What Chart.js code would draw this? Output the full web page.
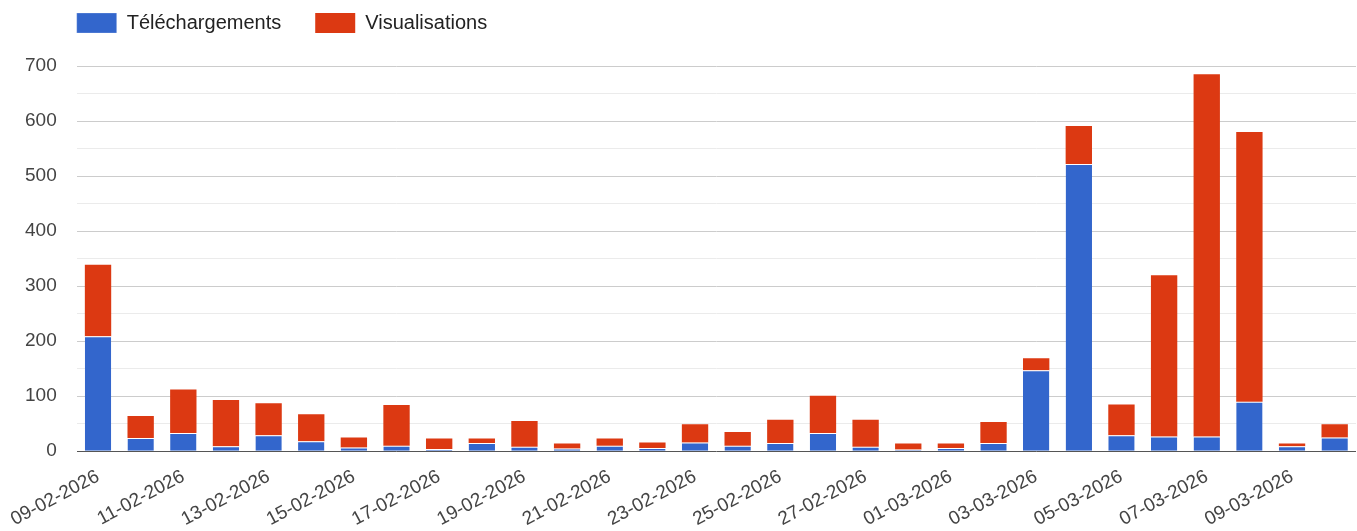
<!DOCTYPE html>
<html>
<head>
<meta charset="utf-8">
<script src="https://cdn.jsdelivr.net/npm/chart.js@4.4.1/dist/chart.umd.min.js"></script>
<style>
  html, body { margin: 0; padding: 0; background: #fff; }
  #wrap { width: 1357px; height: 531px; }
</style>
</head>
<body>
<div id="wrap"><canvas id="statsChart" width="1357" height="531"></canvas></div>
<script>
// Dates (one bar per day)
const days = [
  "09-02-2026", "10-02-2026", "11-02-2026", "12-02-2026", "13-02-2026",
  "14-02-2026", "15-02-2026", "16-02-2026", "17-02-2026", "18-02-2026",
  "19-02-2026", "20-02-2026", "21-02-2026", "22-02-2026", "23-02-2026",
  "24-02-2026", "25-02-2026", "26-02-2026", "27-02-2026", "28-02-2026",
  "01-03-2026", "02-03-2026", "03-03-2026", "04-03-2026", "05-03-2026",
  "06-03-2026", "07-03-2026", "08-03-2026", "09-03-2026", "10-03-2026"
];

// Stacked series values
const telechargements = [
  209, 24, 33, 9, 29, 18, 7, 10, 4, 15,
  8, 5, 10, 6, 16, 10, 15, 33, 8, 3,
  6, 15, 147, 522, 29, 27, 27, 90, 9, 25
];
const visualisations = [
  130, 40, 79, 84, 58, 49, 18, 74, 19, 8,
  47, 9, 13, 10, 33, 25, 42, 68, 49, 11,
  8, 38, 22, 69, 56, 293, 658, 490, 5, 24
];

const yMax = 700;
const yStep = 50;

// put the legend above the plot's left edge like the original
const legendPlace = {
  id: "legendPlace",
  afterLayout(chart) {
    const lg = chart.legend;
    const pad = lg.options.labels.padding;
    lg.left = chart.chartArea.left - pad;
    lg.top = 13 - pad;
  }
};

const ctx = document.getElementById("statsChart").getContext("2d");
new Chart(ctx, {
  type: "bar",
  data: {
    labels: days,
    datasets: [
      {
        label: "Téléchargements",
        data: telechargements,
        backgroundColor: "#3366cc",
        borderColor: "#ffffff",
        borderWidth: { top: 1, left: 0, right: 0, bottom: 0 },
        borderSkipped: false
      },
      {
        label: "Visualisations",
        data: visualisations,
        backgroundColor: "#dc3912",
        borderWidth: 0
      }
    ]
  },
  options: {
    responsive: false,
    animation: false,
    barPercentage: 0.618,
    categoryPercentage: 1,
    layout: { padding: { left: 5, right: 1, top: 2, bottom: -6 } },
    plugins: {
      legend: {
        position: "top",
        align: "start",
        labels: {
          boxWidth: 40,
          boxHeight: 20,
          padding: 34,
          color: "#222",
          font: { family: "'Liberation Sans', Arial, sans-serif", size: 20 }
        }
      },
      tooltip: { enabled: false }
    },
    scales: {
      x: {
        stacked: true,
        grid: { display: false },
        border: { display: false },
        ticks: {
          autoSkip: false,
          minRotation: 28,
          maxRotation: 28,
          padding: 6,
          color: "#444",
          font: { family: "'Liberation Sans', Arial, sans-serif", size: 19 },
          callback: (val, i) => (i % 2 === 0 ? days[i] : "")
        }
      },
      y: {
        stacked: true,
        min: 0,
        max: yMax,
        border: { display: false },
        grid: {
          drawTicks: false,
          lineWidth: 1,
          color: (c) => {
            const v = c.tick ? c.tick.value : 0;
            if (v === 0) return "#555";
            return v % 100 === 0 ? "#cccccc" : "#ebebeb";
          }
        },
        ticks: {
          stepSize: yStep,
          autoSkip: false,
          padding: 20,
          color: "#444",
          font: { family: "'Liberation Sans', Arial, sans-serif", size: 19 },
          callback: (v) => (v % 100 === 0 ? v : "")
        }
      }
    }
  },
  plugins: [legendPlace]
});
</script>
</body>
</html>
